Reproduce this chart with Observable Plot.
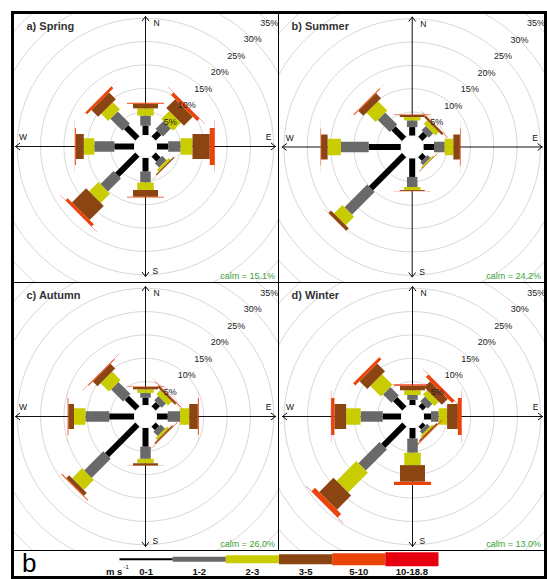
<!DOCTYPE html>
<html>
<head>
<meta charset="utf-8">
<script src="https://cdn.jsdelivr.net/npm/d3@7"></script>
<script src="https://cdn.jsdelivr.net/npm/@observablehq/plot@0.6"></script>
<style>
  html, body { margin: 0; padding: 0; background: #fff; }
  #page { position: relative; width: 547px; height: 579px; overflow: hidden; background: #fff;
          font-family: "Liberation Sans", Arial, sans-serif; }
  .cell { position: absolute; overflow: hidden; }
  .cell svg { display: block; max-width: none; }
  .rule { position: absolute; background: #000; }
  #frame { position: absolute; left: 11px; top: 11px; width: 536px; height: 568px;
           border: 3px solid #000; box-sizing: border-box; }
</style>
</head>
<body>
<div id="page"></div>
<script>
// ---- data -------------------------------------------------------------
const directions = ["N", "NE", "E", "SE", "S", "SW", "W", "NW"];
const bearings = [0, 45, 90, 135, 180, 225, 270, 315];
const speedBins = ["0-1", "1-2", "2-3", "3-5", "5-10", "10-18.8"];
const speedUnit = "m s";
const speedUnitPower = "-1";
const legendTag = "b";
const seasonTitles = ["a) Spring", "b) Summer", "c) Autumn", "d) Winter"];
const calmPercent = [15.1, 24.2, 26.0, 13.0];
const gridPercent = [5, 10, 15, 20, 25, 30, 35];
const compassLabels = ["N", "E", "S", "W"];
const compassBearings = [0, 90, 180, 270];

// frequency (%) per direction (rows N, NE, E, SE, S, SW, W, NW) and speed bin (columns)
const spring = [
  [2.0, 2.15, 1.55, 1.0, 0.2, 0.02],
  [1.7, 2.4, 2.4, 2.7, 0.75, 0.03],
  [2.4, 2.65, 2.55, 3.7, 1.05, 0.05],
  [1.5, 1.3, 0.55, 0.25, 0.05, 0.0],
  [2.9, 2.35, 1.6, 1.45, 0.15, 0.02],
  [6.1, 3.95, 2.8, 4.3, 0.65, 0.03],
  [4.2, 4.3, 2.25, 1.7, 0.2, 0.03],
  [3.4, 3.65, 2.15, 2.05, 0.55, 0.03]
];
const summer = [
  [1.8, 1.45, 0.7, 0.45, 0.1, 0.02],
  [1.5, 1.3, 1.05, 0.45, 0.1, 0.02],
  [2.2, 2.3, 1.85, 1.4, 0.15, 0.02],
  [1.1, 0.85, 0.3, 0.1, 0.02, 0.0],
  [3.95, 2.15, 0.65, 0.2, 0.05, 0.0],
  [10.05, 6.85, 2.55, 0.75, 0.05, 0.0],
  [6.85, 5.95, 2.85, 1.4, 0.1, 0.02],
  [3.2, 3.65, 2.8, 1.5, 0.2, 0.02]
];
const autumn = [
  [1.55, 1.05, 0.75, 0.5, 0.1, 0.0],
  [1.3, 1.3, 1.2, 0.45, 0.1, 0.02],
  [2.3, 2.65, 1.95, 1.85, 0.2, 0.02],
  [1.05, 1.3, 0.55, 0.3, 0.1, 0.0],
  [4.0, 2.6, 0.95, 0.5, 0.05, 0.0],
  [9.2, 5.8, 3.0, 0.85, 0.2, 0.02],
  [5.3, 5.1, 2.45, 1.2, 0.15, 0.02],
  [3.2, 3.65, 2.55, 1.4, 0.2, 0.02]
];
const winter = [
  [1.1, 1.05, 1.0, 0.95, 0.3, 0.02],
  [1.05, 1.4, 1.3, 1.8, 0.75, 0.03],
  [1.5, 1.65, 1.8, 2.3, 0.8, 0.05],
  [0.85, 0.85, 0.45, 0.3, 0.2, 0.02],
  [2.25, 3.05, 2.65, 3.55, 0.7, 0.03],
  [6.4, 6.4, 6.0, 4.3, 1.05, 0.05],
  [3.9, 4.75, 3.1, 2.5, 0.7, 0.05],
  [2.8, 2.55, 3.2, 2.35, 0.65, 0.03]
];
const seasons = [spring, summer, autumn, winter];

// ---- styling ------------------------------------------------------------
const binColors = ["#000000", "#696969", "#c8cc00", "#8b4513", "#ea4508", "#e6000f"];
const paddleWidths = [6, 10.5, 16.5, 25, 37, 52];   // px across each paddle
const keyWidths = [2, 5, 8, 10, 12, 14];            // px thickness in the key
const PX = 4.67;                 // pixels per percent
const HOLE = 11.5 / PX;          // calm hole radius (percent units)
const AXIS = 130 / PX;           // compass axis half-length (percent units)
const FONT = "Liberation Sans, Arial, sans-serif";

const cells = [
  {left: 14,  top: 14,  width: 264, height: 268, cx: 131,   cy: 132},
  {left: 279, top: 14,  width: 265, height: 268, cx: 132.7, cy: 132.5},
  {left: 14,  top: 283, width: 264, height: 267, cx: 131,   cy: 133},
  {left: 279, top: 283, width: 265, height: 267, cx: 133,   cy: 133}
];
const labelNudge = {N: [8, 7, "start"], S: [7, -5, "start"], W: [7.5, -9, "middle"], E: [-7, -9, "middle"]};

const rad = a => a * Math.PI / 180;
const polar = (r, a) => ({x: r * Math.sin(rad(a)), y: r * Math.cos(rad(a))});
const ring = r => d3.range(0, 361, 3).map(a => ({r, ...polar(r, a)}));

function rose(freq, title, calm, cell) {
  // stack the speed bins outward from the calm hole for every direction
  const paddles = [];
  freq.forEach((row, i) => {
    let cum = 0;
    row.forEach((v, b) => {
      if (v <= 0) return;
      const a = bearings[i];
      const p1 = polar(HOLE + cum, a), p2 = polar(HOLE + cum + v, a);
      paddles.push({dir: directions[i], bin: b, x1: p1.x, y1: p1.y, x2: p2.x, y2: p2.y});
      cum += v;
    });
  });
  const rings = gridPercent.flatMap(t => ring(HOLE + t));
  const compass = compassLabels.map((label, i) => ({label, ...polar(AXIS, compassBearings[i])}));

  return Plot.plot({
    width: cell.width, height: cell.height, margin: 0,
    style: {fontFamily: FONT, background: "transparent", overflow: "hidden"},
    x: {domain: [-cell.cx / PX, (cell.width - cell.cx) / PX], range: [0, cell.width], axis: null},
    y: {domain: [-(cell.height - cell.cy) / PX, cell.cy / PX], range: [cell.height, 0], axis: null},
    color: {type: "identity"},
    marks: [
      Plot.line(rings, {x: "x", y: "y", z: "r", stroke: "#d2d2d2", strokeWidth: 0.9, clip: true}),
      Plot.arrow(compass, {x1: 0, y1: 0, x2: "x", y2: "y", stroke: "#111", strokeWidth: 1,
        headLength: 8, headAngle: 75}),
      Plot.line(ring(HOLE), {x: "x", y: "y", fill: "white", stroke: "#dedede", strokeWidth: 0.8}),
      Plot.link(paddles, {x1: "x1", y1: "y1", x2: "x2", y2: "y2",
        stroke: d => binColors[d.bin], strokeWidth: d => paddleWidths[d.bin], strokeLinecap: "butt"}),
      Plot.text(gridPercent, {x: d => (HOLE + d) * Math.SQRT1_2, y: d => (HOLE + d) * Math.SQRT1_2,
        text: d => `${d}%`, fontSize: 9, fill: "#222"}),
      ...compass.map(c => Plot.text([c], {x: "x", y: "y", text: "label", fontSize: 8.5, fill: "#111",
        dx: labelNudge[c.label][0], dy: labelNudge[c.label][1], textAnchor: labelNudge[c.label][2]})),
      Plot.text([title], {frameAnchor: "top-left", text: d => d, dx: 12, dy: 8, lineAnchor: "top",
        fontWeight: "bold", fontSize: 11, fill: "#333"}),
      Plot.text([calm], {frameAnchor: "bottom-right", text: d => `calm = ${d.toFixed(1)}%`,
        dx: -3.5, dy: -4, lineAnchor: "bottom", textAnchor: "end", fontSize: 9, fill: "#3aa23a"})
    ]
  });
}

// speed key along the bottom strip
function key() {
  const segs = speedBins.map((label, i) => ({label, i}));
  return Plot.plot({
    width: 530, height: 33, margin: 0,
    style: {fontFamily: FONT, background: "transparent"},
    x: {domain: [0, speedBins.length], range: [105, 424], axis: null},
    y: {domain: [0, 1], range: [12.7, 21.3], axis: null},
    color: {type: "identity"},
    marks: [
      Plot.link(segs, {x1: d => d.i, x2: d => d.i + 1, y1: 0, y2: 0,
        stroke: d => binColors[d.i], strokeWidth: d => keyWidths[d.i], strokeLinecap: "butt"}),
      Plot.text(segs, {x: d => d.i + 0.5, y: 1, text: "label", lineAnchor: "top",
        fontSize: 9.5, fontWeight: "bold", fill: "#111"}),
      Plot.text([speedUnit], {x: 0, y: 1, text: d => d, textAnchor: "start", dx: -13.5, lineAnchor: "top",
        fontSize: 9.5, fontWeight: "bold", fill: "#111"}),
      Plot.text([speedUnitPower], {x: 0, y: 1, text: d => d, textAnchor: "start", dx: 4, dy: -3, lineAnchor: "top",
        fontSize: 6, fill: "#111"}),
      Plot.text([legendTag], {frameAnchor: "top-left", text: d => d, dx: 7.5, dy: 7, lineAnchor: "top",
        fontSize: 26, fill: "#000"})
    ]
  });
}

const page = document.getElementById("page");
function place(node, l, t, w, h) {
  const div = document.createElement("div");
  div.className = "cell";
  Object.assign(div.style, {left: l + "px", top: t + "px", width: w + "px", height: h + "px"});
  div.appendChild(node);
  page.appendChild(div);
}
seasons.forEach((freq, k) => {
  const c = cells[k];
  place(rose(freq, seasonTitles[k], calmPercent[k], c), c.left, c.top, c.width, c.height);
});
place(key(), 14, 546, 530, 33);

function rule(l, t, w, h) {
  const d = document.createElement("div");
  d.className = "rule";
  Object.assign(d.style, {left: l + "px", top: t + "px", width: w + "px", height: h + "px"});
  page.appendChild(d);
}
rule(278, 14, 1, 536);
rule(14, 282, 530, 1.2);
rule(14, 550, 530, 1.2);
const frame = document.createElement("div");
frame.id = "frame";
page.appendChild(frame);
</script>
</body>
</html>
